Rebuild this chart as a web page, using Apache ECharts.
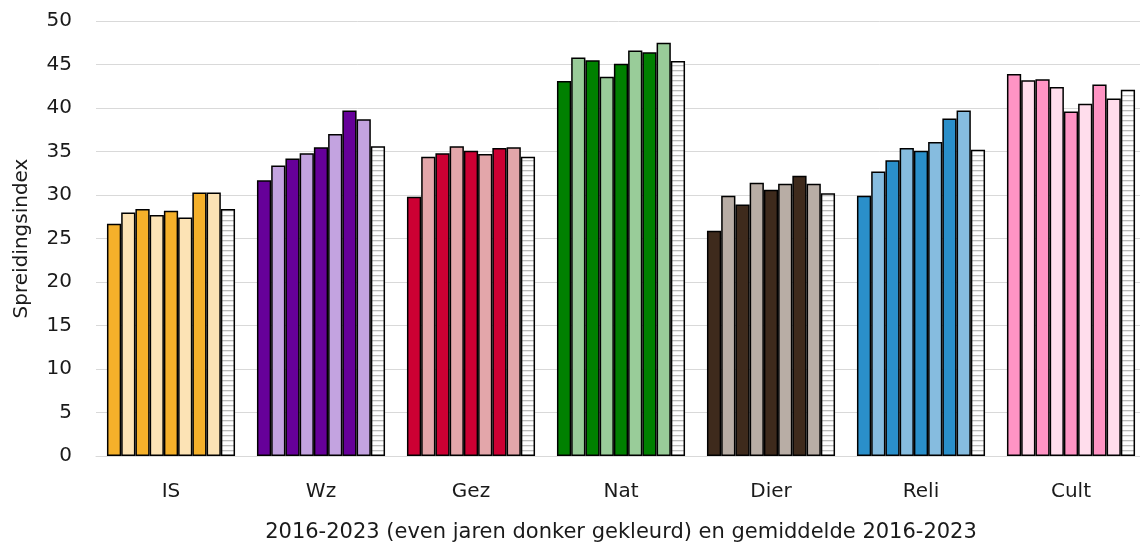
<!DOCTYPE html>
<html>
<head>
<meta charset="utf-8">
<script src="https://cdn.jsdelivr.net/npm/echarts@6/dist/echarts.min.js"></script>
<style>
html,body{margin:0;padding:0;background:#fff;}
#chart{width:1140px;height:544px;}
</style>
</head>
<body>
<div id="chart"></div>
<script>
// Categories (x axis)
var categories = ['IS', 'Wz', 'Gez', 'Nat', 'Dier', 'Reli', 'Cult'];
// Series names: years 2016-2023 and the average
var seriesNames = ['2016', '2017', '2018', '2019', '2020', '2021', '2022', '2023', 'Gemiddelde 2016-2023'];

// Values per category: 2016..2023, average
var valIS   = [26.7, 28.0, 28.4, 27.7, 28.2, 27.4, 30.3, 30.3, 28.4];
var valWz   = [31.7, 33.4, 34.2, 34.8, 35.5, 37.0, 39.7, 38.7, 35.6];
var valGez  = [29.8, 34.4, 34.8, 35.6, 35.1, 34.7, 35.4, 35.5, 34.4];
var valNat  = [43.1, 45.8, 45.5, 43.6, 45.1, 46.6, 46.4, 47.5, 45.4];
var valDier = [25.9, 29.9, 28.9, 31.4, 30.6, 31.3, 32.2, 31.3, 30.2];
var valReli = [29.9, 32.7, 34.0, 35.4, 35.1, 36.1, 38.8, 39.7, 35.2];
var valCult = [43.9, 43.2, 43.3, 42.4, 39.6, 40.5, 42.7, 41.1, 42.1];

// Colours per category: dark (even years) and light (odd years)
var darkColors  = ['#F5B02A', '#660099', '#CC0033', '#008000', '#3E2A1C', '#2A8FCA', '#FF94C4'];
var lightColors = ['#FCE3B5', '#C3A3E0', '#E3A6AA', '#99CC99', '#B8ADA5', '#86BCDF', '#FFDDEC'];

var allValues = [valIS, valWz, valGez, valNat, valDier, valReli, valCult];

// horizontal stripe pattern for the average bar
var pat = document.createElement('canvas');
pat.width = 10; pat.height = 5;
var pctx = pat.getContext('2d');
pctx.fillStyle = '#ffffff';
pctx.fillRect(0, 0, 10, 5);
pctx.fillStyle = '#bdbdbd';
pctx.fillRect(0, 0, 10, 1.3);

var series = seriesNames.map(function (name, i) {
  return {
    name: name,
    type: 'bar',
    barGap: '0%',
    barCategoryGap: '14.6%',
    data: allValues.map(function (vals, j) {
      var color;
      if (i === 8) color = { image: pat, repeat: 'repeat' };
      else color = (i % 2 === 0) ? darkColors[j] : lightColors[j];
      return { value: vals[i], itemStyle: { color: color } };
    }),
    itemStyle: { borderColor: '#000', borderWidth: 1.5 },
    emphasis: { disabled: true },
    animation: false
  };
});

var FONT = '"DejaVu Sans", sans-serif';
var chart = echarts.init(document.getElementById('chart'), null, { renderer: 'canvas' });
chart.setOption({
  animation: false,
  backgroundColor: '#fff',
  textStyle: { fontFamily: FONT },
  grid: { left: 96, top: 21, width: 1050, bottom: 88, containLabel: false, outerBoundsMode: 'none' },
  xAxis: {
    type: 'category',
    data: categories,
    axisLine: { show: true, lineStyle: { color: '#d9d9d9', width: 1 } },
    axisTick: { show: false },
    axisLabel: { color: '#1a1a1a', fontSize: 20, margin: 26, fontFamily: FONT },
    name: '2016-2023 (even jaren donker gekleurd) en gemiddelde 2016-2023',
    nameLocation: 'middle',
    nameGap: 66,
    nameTextStyle: { color: '#1a1a1a', fontSize: 21, fontFamily: FONT }
  },
  yAxis: {
    type: 'value',
    min: 0, max: 50, interval: 5,
    axisLine: { show: false },
    axisTick: { show: false },
    splitLine: { lineStyle: { color: '#d9d9d9', width: 1 } },
    axisLabel: { color: '#1a1a1a', fontSize: 20, margin: 24, fontFamily: FONT },
    name: 'Spreidingsindex',
    nameLocation: 'middle',
    nameGap: 64,
    nameTextStyle: { color: '#1a1a1a', fontSize: 20, fontFamily: FONT }
  },
  series: series
});
</script>
</body>
</html>
